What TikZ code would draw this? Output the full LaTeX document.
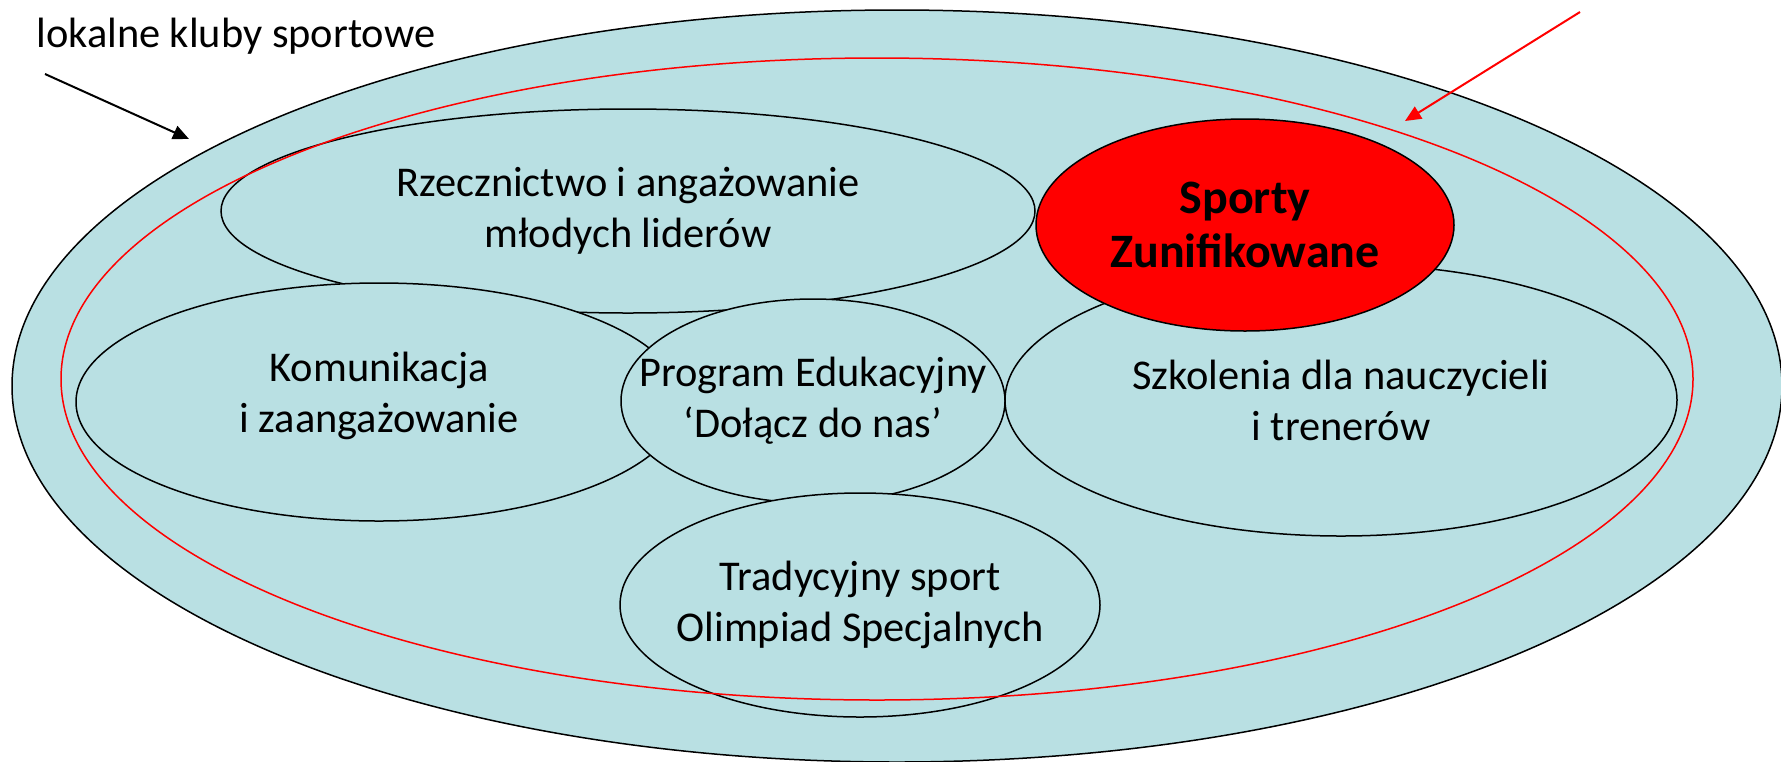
\documentclass[tikz,border=0pt]{standalone}
\usepackage{fontspec}
\setmainfont{Carlito}
\usetikzlibrary{arrows.meta,shapes.geometric}
\definecolor{lb}{RGB}{185,224,227}
\begin{document}
\begin{tikzpicture}[x=0.5pt,y=-0.5pt,
  bub/.style={ellipse, draw=black, line width=0.75pt, fill=lb, inner sep=0pt},
  txt/.style={align=center, inner sep=0pt, font=\fontsize{21.2}{25.5}\selectfont},
  arr/.style={line width=1pt, -{Triangle[length=8pt,width=7pt]}}
]
\useasboundingbox (0,0) rectangle (1781,761);
\node[bub, minimum width=885pt, minimum height=376pt] (outer) at (897,386) {};
\node[bub, minimum width=407pt, minimum height=102pt] (rz) at (628,211) {};
\node[bub, minimum width=303pt, minimum height=119pt] (ko) at (379,402) {};
\node[bub, minimum width=336pt, minimum height=136pt] (sz) at (1341,400) {};
\node[bub, minimum width=192pt, minimum height=102pt] (pr) at (813,401) {};
\node[bub, minimum width=240pt, minimum height=112pt] (tr) at (860,605) {};
\node[bub, fill=red, minimum width=209pt, minimum height=106pt] (sp) at (1245,225) {};
\node[ellipse, draw=red, line width=0.75pt, inner sep=0pt, minimum width=816pt, minimum height=321pt] (redring) at (877,379) {};

\node[txt] (rzt) at (rz) {Rzecznictwo i angażowanie\\młodych liderów};
\node[txt] (kot) at (379,396) {Komunikacja\\i zaangażowanie};
\node[txt] (szt) at (sz) {Szkolenia dla nauczycieli\\i trenerów};
\node[txt] (prt) at (pr) {Program Edukacyjny\\‘Dołącz do nas’};
\node[txt] (trt) at (tr) {Tradycyjny sport\\Olimpiad Specjalnych};
\node[txt, font=\fontsize{24}{27}\selectfont\bfseries] (spt) at (sp) {Sporty\\Zunifikowane};

\node[txt, anchor=base west] (lk) at (36,47) {lokalne kluby sportowe};

\coordinate (a1s) at (45,74);
\coordinate (a1e) at (189,139);
\draw[arr] (a1s) -- (a1e);
\coordinate (a2s) at (1580,12);
\coordinate (a2e) at (1405,121);
\draw[arr, red] (a2s) -- (a2e);
\end{tikzpicture}
\end{document}
